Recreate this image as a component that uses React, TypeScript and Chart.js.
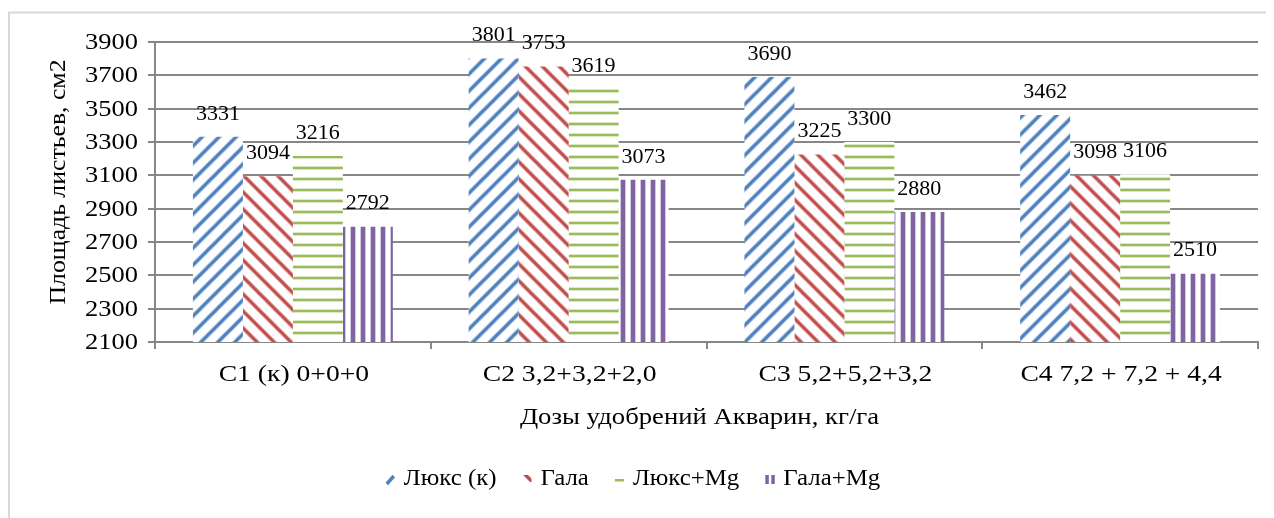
import React, { useEffect, useRef } from "react";
import { Chart, registerables } from "chart.js";

Chart.register(...registerables);

const categories = ["С1 (к) 0+0+0", "С2 3,2+3,2+2,0", "С3 5,2+5,2+3,2", "С4 7,2 + 7,2 + 4,4"];
const seriesNames = ["Люкс (к)", "Гала", "Люкс+Mg", "Гала+Mg"];
const luxK = [3331, 3801, 3690, 3462];
const gala = [3094, 3753, 3225, 3098];
const luxMg = [3216, 3619, 3300, 3106];
const galaMg = [2792, 3073, 2880, 2510];
const yMin = 2100;
const yMax = 3900;
const yStep = 200;
const yTitle = "Площадь листьев, см2";
const xTitle = "Дозы удобрений Акварин, кг/га";

const seriesColors = ["#4f81bd", "#c0504d", "#9bbb59", "#8064a2"];
const seriesLights = ["#bfd1ea", "#ecc4c3", "#dbe8c6", "#d3c8e2"];
const seriesKinds = ["up", "down", "h", "v"];
const AXIS_FONT = '23px "Liberation Serif"';
const LABEL_FONT = '22px "Liberation Serif"';
const GRID = "#878787";

function makePattern(kind: string, color: string, light: string): CanvasPattern {
  const c = document.createElement("canvas");
  let w = 17, h = 17;
  if (kind === "h") { w = 8; h = 11; }
  if (kind === "v") { w = 10; h = 8; }
  c.width = w; c.height = h;
  const g = c.getContext("2d")!;
  g.fillStyle = "#ffffff";
  g.fillRect(0, 0, w, h);
  if (kind === "up" || kind === "down") {
    for (const [col, lw] of [[light, 4.8], [color, 3]] as [string, number][]) {
      g.strokeStyle = col;
      g.lineWidth = lw;
      for (const k of [-w, 0, w]) {
        g.beginPath();
        if (kind === "up") { g.moveTo(k - 3, h + 3); g.lineTo(k + w + 3, -3); }
        else { g.moveTo(k - 3, -3); g.lineTo(k + w + 3, h + 3); }
        g.stroke();
      }
    }
  } else if (kind === "h") {
    g.fillStyle = light; g.fillRect(0, 4, w, 4);
    g.fillStyle = color; g.fillRect(0, 5, w, 2);
  } else {
    g.fillStyle = light; g.fillRect(2, 0, 6, h);
    g.fillStyle = color; g.fillRect(3, 0, 4, h);
  }
  return g.createPattern(c, "repeat")!;
}

function sText(ctx: CanvasRenderingContext2D, text: string, x: number, y: number, align: CanvasTextAlign, sx: number, rot = 0) {
  ctx.save();
  ctx.translate(x, y);
  if (rot) ctx.rotate(rot);
  ctx.scale(sx, 1);
  ctx.textAlign = align;
  ctx.fillText(text, 0, 0);
  ctx.restore();
}

const borderPlugin = {
  id: "outerBorder",
  beforeDraw(chart: any) {
    const ctx = chart.ctx as CanvasRenderingContext2D;
    ctx.save();
    ctx.strokeStyle = "#d9d9d9";
    ctx.lineWidth = 2;
    ctx.strokeRect(1, 4.5, chart.width + 40, chart.height + 40);
    ctx.restore();
  },
};

const textPlugin = {
  id: "texts",
  afterDraw(chart: any) {
    const ctx = chart.ctx as CanvasRenderingContext2D;
    const { left, right, top, bottom } = chart.chartArea;
    ctx.save();
    ctx.fillStyle = "#000000";
    ctx.font = AXIS_FONT;
    ctx.textBaseline = "middle";
    const ys = chart.scales.y;
    ys.ticks.forEach((t: any, i: number) => {
      sText(ctx, String(t.value), left - 17, ys.getPixelForTick(i) + 1, "right", 1.15);
    });
    const xs = chart.scales.x;
    xs.ticks.forEach((t: any, i: number) => {
      sText(ctx, categories[i], xs.getPixelForTick(i) + 1, bottom + 33, "center", 1.2);
    });
    sText(ctx, xTitle, (left + right) / 2 - 7, bottom + 76, "center", 1.16);
    sText(ctx, yTitle, 51, (top + bottom) / 2 - 10, "center", 1.12, -Math.PI / 2);
    ctx.font = LABEL_FONT;
    ctx.textAlign = "center";
    chart.data.datasets.forEach((ds: any, di: number) => {
      const meta = chart.getDatasetMeta(di);
      meta.data.forEach((bar: any, i: number) => {
        ctx.fillText(String(ds.data[i]), bar.x, bar.y - 23);
      });
    });
    ctx.font = AXIS_FONT;
    ctx.textBaseline = "alphabetic";
    const LSX = 1.08;
    const iconW = 9, gapIT = 9, gapItems = 26;
    const widths = seriesNames.map((n) => ctx.measureText(n).width * LSX);
    const total = widths.reduce((a, b) => a + b, 0) + seriesNames.length * (iconW + gapIT) + (seriesNames.length - 1) * gapItems;
    let x = 625 - total / 2;
    const base = 477;
    seriesNames.forEach((n, i) => {
      const c = seriesColors[i];
      const iy = base - 10;
      ctx.save();
      if (i === 0) {
        ctx.strokeStyle = c; ctx.lineWidth = 3.5;
        ctx.beginPath(); ctx.moveTo(x + 1, iy + 9); ctx.lineTo(x + 8, iy + 1); ctx.stroke();
      } else if (i === 1) {
        ctx.beginPath(); ctx.rect(x, iy, iconW, 7); ctx.clip();
        ctx.strokeStyle = c; ctx.lineWidth = 3.5;
        ctx.beginPath(); ctx.moveTo(x + 2, iy - 1); ctx.lineTo(x + 10, iy + 7); ctx.stroke();
      } else if (i === 2) {
        ctx.fillStyle = c; ctx.fillRect(x, iy + 4, iconW, 2.5);
      } else {
        ctx.fillStyle = c; ctx.fillRect(x, iy, 3.5, 9); ctx.fillRect(x + 6, iy, 3.5, 9);
      }
      ctx.restore();
      x += iconW + gapIT;
      sText(ctx, n, x, base, "left", LSX);
      x += widths[i] + gapItems;
    });
    ctx.restore();
  },
};

export default function App() {
  const ref = useRef<HTMLCanvasElement>(null);
  useEffect(() => {
    if (!ref.current) return;
    const patterns = seriesKinds.map((k, i) => makePattern(k, seriesColors[i], seriesLights[i]));
    const dataArr = [luxK, gala, luxMg, galaMg];
    const chart = new Chart(ref.current, {
      type: "bar",
      data: {
        labels: categories,
        datasets: dataArr.map((d, i) => ({
          label: seriesNames[i],
          data: d,
          backgroundColor: patterns[i] as any,
          borderWidth: 0,
          categoryPercentage: 0.725,
          barPercentage: 1,
        })),
      },
      options: {
        animation: false,
        responsive: true,
        maintainAspectRatio: false,
        layout: { padding: { top: 34, right: 16, bottom: 96, left: 0 } },
        plugins: { legend: { display: false }, tooltip: { enabled: false } },
        scales: {
          x: {
            grid: { display: true, drawOnChartArea: false, drawTicks: true, tickLength: 7, color: GRID, lineWidth: 2, offset: true },
            border: { display: true, color: GRID, width: 2 },
            ticks: { display: false },
            afterFit: (s: any) => { s.height = 80; },
          },
          y: {
            min: yMin,
            max: yMax,
            ticks: { display: false, stepSize: yStep },
            grid: { color: GRID, lineWidth: 2, tickLength: 7, drawTicks: true },
            border: { display: true, color: GRID, width: 2 },
            afterFit: (s: any) => { s.width = 147; },
          },
        },
      },
      plugins: [borderPlugin, textPlugin],
    });
    return () => chart.destroy();
  }, []);
  return (
    <div style={{ width: 1266, height: 510, position: "relative" }}>
      <canvas ref={ref} />
    </div>
  );
}
